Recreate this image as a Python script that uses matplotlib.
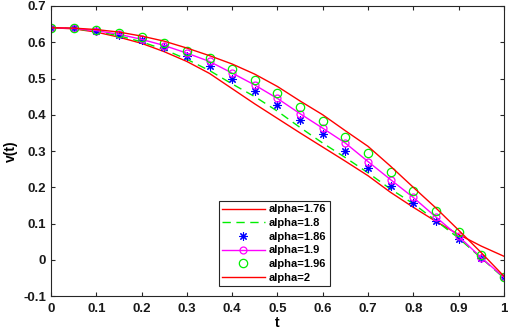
import matplotlib
matplotlib.use("Agg")
import matplotlib.pyplot as plt

plt.rcParams['font.family'] = ['Liberation Sans', 'DejaVu Sans']

t = [0, 0.05, 0.1, 0.15, 0.2, 0.25, 0.3, 0.35, 0.4, 0.45, 0.5,
     0.55, 0.6, 0.65, 0.7, 0.75, 0.8, 0.85, 0.9, 0.95, 1.0]

v_176 = [0.64, 0.637, 0.628, 0.614, 0.597, 0.574, 0.547, 0.514, 0.472, 0.43, 0.39,
         0.35, 0.311, 0.272, 0.232, 0.186, 0.145, 0.106, 0.07, 0.038, 0.01]
v_18 = [0.64, 0.638, 0.63, 0.618, 0.601, 0.58, 0.553, 0.522, 0.485, 0.45, 0.41,
        0.365, 0.322, 0.282, 0.24, 0.195, 0.155, 0.108, 0.06, 0.005, -0.05]
v_186 = [0.64, 0.638, 0.631, 0.62, 0.605, 0.587, 0.562, 0.534, 0.499, 0.465, 0.427,
         0.385, 0.347, 0.301, 0.254, 0.204, 0.157, 0.107, 0.058, 0.006, -0.048]
v_19 = [0.64, 0.638, 0.632, 0.622, 0.608, 0.591, 0.57, 0.547, 0.515, 0.482, 0.445,
        0.403, 0.363, 0.322, 0.271, 0.221, 0.172, 0.118, 0.065, 0.006, -0.048]
v_196 = [0.64, 0.639, 0.633, 0.625, 0.614, 0.598, 0.577, 0.556, 0.526, 0.495, 0.46,
         0.422, 0.383, 0.34, 0.295, 0.242, 0.191, 0.134, 0.077, 0.014, -0.048]
v_2 = [0.64, 0.639, 0.635, 0.628, 0.617, 0.603, 0.584, 0.563, 0.54, 0.512, 0.478,
       0.438, 0.40, 0.356, 0.313, 0.258, 0.2, 0.143, 0.082, 0.02, -0.045]

xticks = [0, 0.1, 0.2, 0.3, 0.4, 0.5, 0.6, 0.7, 0.8, 0.9, 1]
yticks = [-0.1, 0, 0.1, 0.2, 0.3, 0.4, 0.5, 0.6, 0.7]

fig = plt.figure(figsize=(5.1, 3.32), dpi=100)
ax = fig.add_axes([0.1, 0.108, 0.888, 0.874])

ax.plot(t, v_176, color='#ff0000', lw=1.0, label='alpha=1.76')
ax.plot(t, v_18, color='#00ee00', lw=1.0, ls=(0, (6, 4)), label='alpha=1.8')
ax.plot(t, v_186, color='#0000ff', ls='none', marker=(8, 2, 0), ms=6, mew=0.8,
        label='alpha=1.86')
ax.plot(t, v_19, color='#ff00ff', lw=1.0, marker='o', ms=5, mfc='none', mew=0.9,
        label='alpha=1.9')
ax.plot(t, v_196, color='#00ee00', ls='none', marker='o', ms=6, mfc='none', mew=0.9,
        label='alpha=1.96')
ax.plot(t, v_2, color='#ff0000', lw=1.0, label='alpha=2')

ax.set_xlim(0, 1)
ax.set_ylim(-0.1, 0.7)
ax.set_xticks(xticks)
ax.set_yticks(yticks)
ax.set_xticklabels(['0', '0.1', '0.2', '0.3', '0.4', '0.5', '0.6', '0.7', '0.8', '0.9', '1'],
                   fontweight='bold')
ax.set_yticklabels(['-0.1', '0', '0.1', '0.2', '0.3', '0.4', '0.5', '0.6', '0.7'],
                   fontweight='bold')
ax.tick_params(direction='in', top=True, right=True, length=3, width=0.8,
               colors='#262626', labelsize=9.5, labelcolor='#1a1a1a')
ax.tick_params(axis='x', pad=5)
for s in ax.spines.values():
    s.set_color('#262626')
    s.set_linewidth(0.8)

ax.set_xlabel('t', fontsize=10, fontweight='bold', labelpad=1)
ax.set_ylabel('v(t)', fontsize=10, fontweight='bold', labelpad=4)

leg = ax.legend(loc='lower left', bbox_to_anchor=(0.371, 0.0345), borderaxespad=0,
                prop={'size': 8, 'weight': 'bold'}, handlelength=3.8,
                labelspacing=0.33, handletextpad=0.4,
                borderpad=0.3, fancybox=False, framealpha=1)
leg.get_frame().set_edgecolor('#262626')
leg.get_frame().set_linewidth(0.8)

fig.savefig('out.png', dpi=100)
